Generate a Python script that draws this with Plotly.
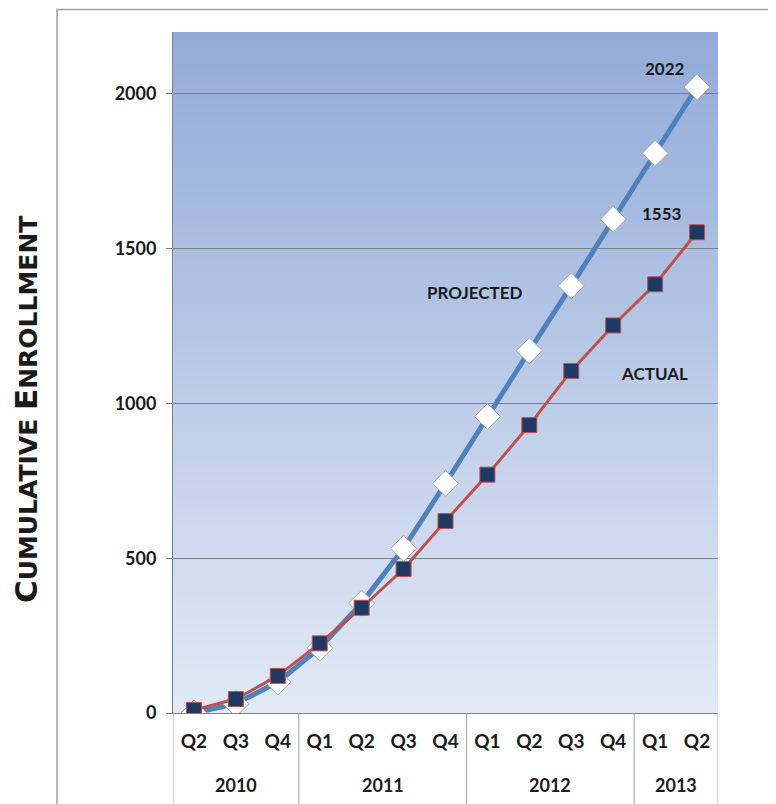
import plotly.graph_objects as go

years = ["2010", "2010", "2010", "2011", "2011", "2011", "2011",
         "2012", "2012", "2012", "2012", "2013", "2013"]
quarters = ["Q2", "Q3", "Q4", "Q1", "Q2", "Q3", "Q4",
            "Q1", "Q2", "Q3", "Q4", "Q1", "Q2"]
projected = [0, 30, 100, 210, 355, 532, 742, 958, 1170, 1380, 1595, 1808, 2022]
actual = [10, 45, 120, 225, 340, 465, 620, 770, 930, 1105, 1252, 1385, 1553]
year_labels = ["2010", "2011", "2012", "2013"]

FONT = "Lato"
keys = [y + " " + q for y, q in zip(years, quarters)]

fig = go.Figure()

# gradient background bands (decoration)
n = 80
top = (146, 171, 216)
bot = (226, 233, 245)
for i in range(n):
    t = i / (n - 1)
    c = tuple(int(round(bot[k] + (top[k] - bot[k]) * t)) for k in range(3))
    fig.add_shape(type="rect", xref="paper", yref="paper",
                  x0=0, x1=1, y0=i / n, y1=min(1, (i + 2) / n),
                  fillcolor="rgb(%d,%d,%d)" % c, line_width=0, layer="below")

fig.add_trace(go.Scatter(
    x=keys, y=projected, mode="lines+markers", name="Projected",
    line=dict(color="#4f81bd", width=5),
    marker=dict(symbol="diamond", size=20, color="white",
                line=dict(color="#a6a6a6", width=1)),
))
fig.add_trace(go.Scatter(
    x=keys, y=actual, mode="lines+markers", name="Actual",
    line=dict(color="#c0504d", width=3),
    marker=dict(symbol="square", size=15, color="#1f3864",
                line=dict(color="#c0504d", width=1)),
))

ann_font = dict(family=FONT, size=17, color="#1a1a1a", weight="bold")
for txt, ax_, ay_ in [("2022", 0.903, 0.947), ("1553", 0.897, 0.734),
                      ("PROJECTED", 0.554, 0.618), ("ACTUAL", 0.884, 0.499)]:
    fig.add_annotation(text=txt, x=ax_, y=ay_, xref="paper", yref="paper",
                       xanchor="center", yanchor="middle",
                       showarrow=False, font=ann_font)

# year group labels and dividers
bounds = [-0.5]
for i in range(1, len(years)):
    if years[i] != years[i - 1]:
        bounds.append(i - 0.5)
bounds.append(len(years) - 0.5)
for b in bounds:
    fig.add_shape(type="line", xref="x", yref="paper", x0=b, x1=b, y0=0, y1=-0.15,
                  line=dict(color="#a0a0a0", width=1))
for j, yl in enumerate(year_labels):
    fig.add_annotation(text=yl, x=(bounds[j] + bounds[j + 1]) / 2, y=-0.106,
                       xref="x", yref="paper", xanchor="center", yanchor="middle",
                       showarrow=False,
                       font=dict(family=FONT, size=18, color="#1a1a1a", weight="bold"))

# outer frame
fig.add_shape(type="rect", xref="paper", yref="paper",
              x0=-0.2128, x1=1.099, y0=-0.2, y1=1.033,
              line=dict(color="#a0a0a0", width=1.5), fillcolor="rgba(0,0,0,0)",
              layer="below")

ytitle = ('<span style="font-size:31px">C</span>'
          '<span style="font-size:25px">UMULATIVE </span>'
          '<span style="font-size:31px">E</span>'
          '<span style="font-size:25px">NROLLMENT</span>')
fig.add_annotation(text=ytitle, x=-0.27, y=0.446, xref="paper", yref="paper",
                   xanchor="center", yanchor="middle",
                   textangle=-90, showarrow=False,
                   font=dict(family="DejaVu Sans", size=25, color="#1a1a1a",
                             weight="bold"))

fig.update_layout(
    width=776, height=804,
    margin=dict(l=165, r=66, t=24, b=99, autoexpand=False),
    paper_bgcolor="white",
    plot_bgcolor="rgba(0,0,0,0)",
    showlegend=False,
    font=dict(family=FONT, size=16, color="#1a1a1a"),
    xaxis=dict(
        type="category", showgrid=False, range=[-0.5, len(keys) - 0.5],
        tickvals=keys, ticktext=quarters,
        showline=True, linecolor="#808080", linewidth=1,
        ticks="", ticklabelstandoff=11, automargin=False,
        tickfont=dict(family=FONT, size=19, color="#1a1a1a", weight="bold"),
        fixedrange=True,
    ),
    yaxis=dict(
        range=[0, 2200], tickvals=[0, 500, 1000, 1500, 2000],
        showgrid=True, gridcolor="#7f7f7f", gridwidth=1,
        zeroline=False, automargin=False,
        showline=True, linecolor="#808080", linewidth=1,
        ticks="outside", ticklen=6, tickcolor="#808080",
        tickfont=dict(family=FONT, size=18, color="#1a1a1a", weight="bold"),
        tickformat="d", ticklabelstandoff=6,
    ),
)

fig.write_html("out.html")
